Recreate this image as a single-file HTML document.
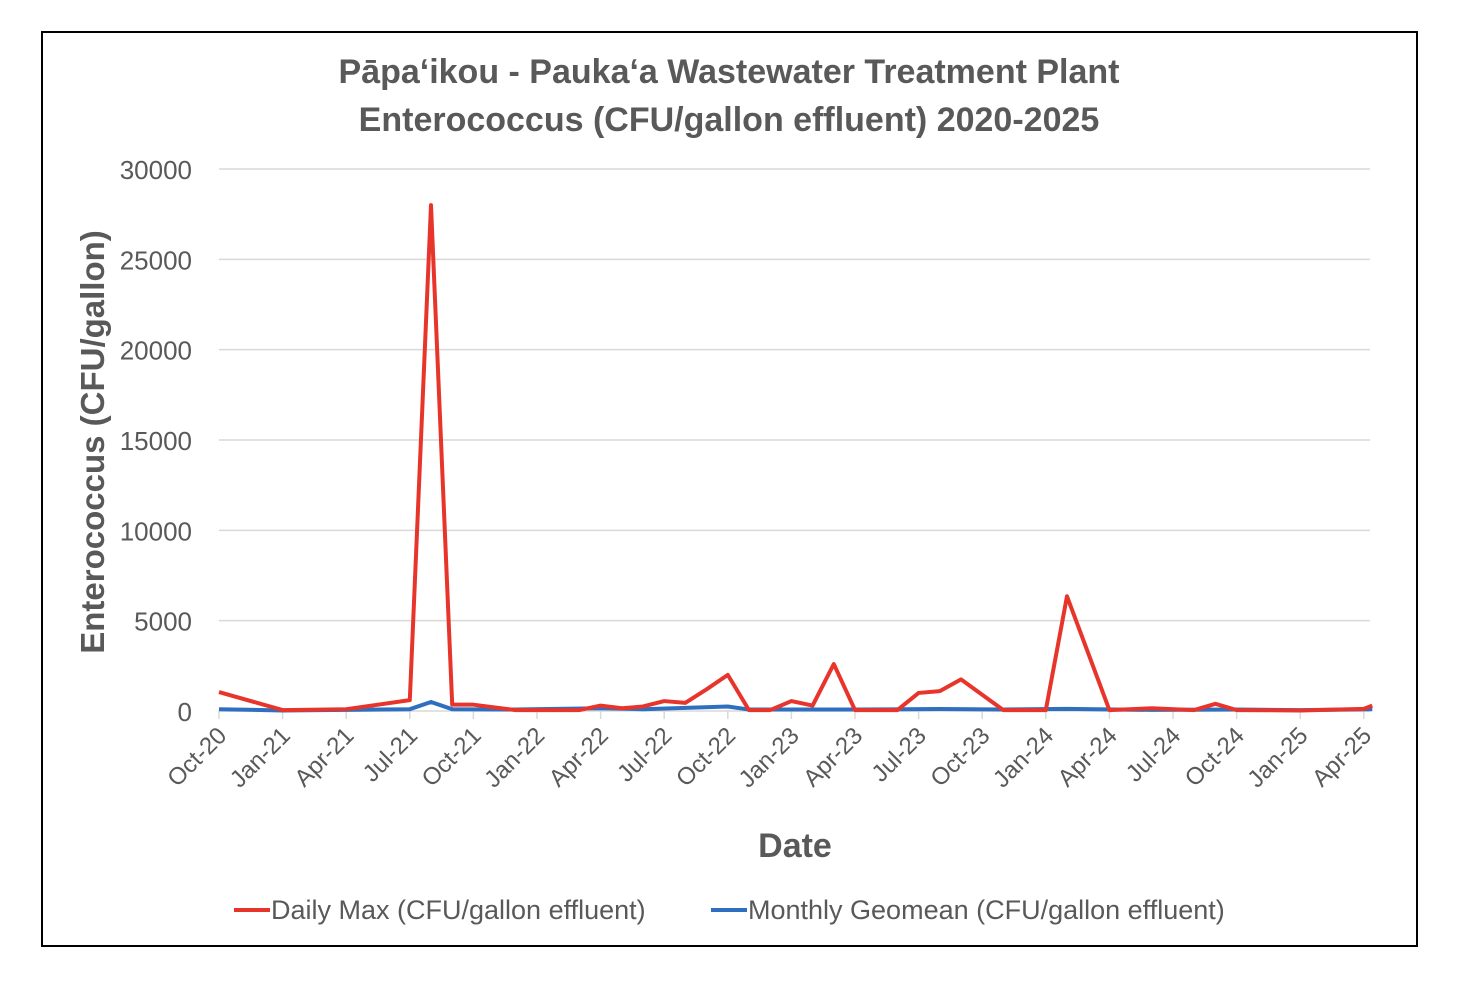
<!DOCTYPE html>
<html><head><meta charset="utf-8">
<style>
body{margin:0;background:#fff;width:1464px;height:984px;overflow:hidden;font-family:"Liberation Sans",sans-serif}
</style></head>
<body>
<svg width="1464" height="984" xmlns="http://www.w3.org/2000/svg">
<rect x="42" y="32" width="1375" height="914" fill="#fff" stroke="#000" stroke-width="2"/>
<text x="729" y="83" text-anchor="middle" font-size="34" font-weight="bold" fill="#595959">Pāpaʻikou - Paukaʻa Wastewater Treatment Plant</text>
<text x="729" y="131" text-anchor="middle" font-size="34" font-weight="bold" fill="#595959">Enterococcus (CFU/gallon effluent) 2020-2025</text>
<g id="grid"></g>
<g id="yticks"></g>
<g id="xticks"></g>
<g id="series"></g>
<text transform="translate(104,442) rotate(-90)" text-anchor="middle" font-size="33" font-weight="bold" fill="#595959">Enterococcus (CFU/gallon)</text>
<text x="795" y="857" text-anchor="middle" font-size="34" font-weight="bold" fill="#595959">Date</text>
<g>
<line x1="234" y1="910" x2="270" y2="910" stroke="#e8352b" stroke-width="4"/>
<text x="271" y="919" font-size="27" fill="#595959">Daily Max (CFU/gallon effluent)</text>
</g>
<g>
<line x1="711" y1="910" x2="747" y2="910" stroke="#2f6fc0" stroke-width="4"/>
<text x="748" y="919" font-size="27" fill="#595959">Monthly Geomean (CFU/gallon effluent)</text>
</g>
</svg>
<script>
const yTicks=[0,5000,10000,15000,20000,25000,30000];
const xLabels=["Oct-20","Jan-21","Apr-21","Jul-21","Oct-21","Jan-22","Apr-22","Jul-22","Oct-22","Jan-23","Apr-23","Jul-23","Oct-23","Jan-24","Apr-24","Jul-24","Oct-24","Jan-25","Apr-25"];
const redMonths=[0,3,6,9,10,11,12,14,17,18,19,20,21,22,23,24,25,26,27,28,29,30,32,33,34,35,37,39,40,42,44,46,47,48,51,54,54.4];
const redValues=[1050,50,100,600,28000,350,350,50,50,300,150,250,550,450,1200,2000,50,50,550,300,2600,50,50,1000,1100,1750,50,50,6350,50,150,50,400,50,30,120,300];
const blueMonths=[0,3,6,9,10,11,14,18,20,24,25,30,34,37,40,44,48,51,54.4];
const blueValues=[100,30,60,100,500,100,80,150,100,250,80,80,110,80,120,60,80,50,100];
const NS="http://www.w3.org/2000/svg";
const X0=219,XM=21.2,Y0=711,YS=542/30000;
const xs=m=>X0+m*XM, ys=v=>Y0-v*YS;
function mk(tag,attrs,parent){const e=document.createElementNS(NS,tag);for(const k in attrs)e.setAttribute(k,attrs[k]);document.getElementById(parent).appendChild(e);return e;}
yTicks.forEach(v=>{
  if(v>0){const g=mk('line',{x1:219,x2:1370,y1:ys(v),y2:ys(v),stroke:'#d9d9d9','stroke-width':1.5},'grid');
  
  }
  const t=mk('text',{x:192,y:ys(v)+10,'text-anchor':'end','font-size':26,fill:'#595959'},'yticks');
  t.textContent=v;
  
  
});
const ax=mk('line',{x1:219,x2:1370,y1:Y0,y2:Y0,stroke:'#d9d9d9','stroke-width':1.5},'grid');


xLabels.forEach((l,i)=>{
  const x=xs(i*3);
  const tk=mk('line',{x1:x,x2:x,y1:Y0,y2:Y0+8,stroke:'#d9d9d9','stroke-width':1.5},'xticks');
  
  
  const t=mk('text',{transform:`translate(${x+9},${Y0+26}) rotate(-45)`,'text-anchor':'end','font-size':24,fill:'#595959'},'xticks');
  t.textContent=l;
  
  
});
function line(ms,vs,col,name){
  const p=mk('polyline',{points:ms.map((m,i)=>xs(m)+','+ys(vs[i])).join(' '),fill:'none',stroke:col,'stroke-width':4,'stroke-linejoin':'round'},'series');
  
  
}
line(blueMonths,blueValues,'#2f6fc0','monthly-geomean-line');
line(redMonths,redValues,'#e8352b','daily-max-line');
</script>
</body></html>
